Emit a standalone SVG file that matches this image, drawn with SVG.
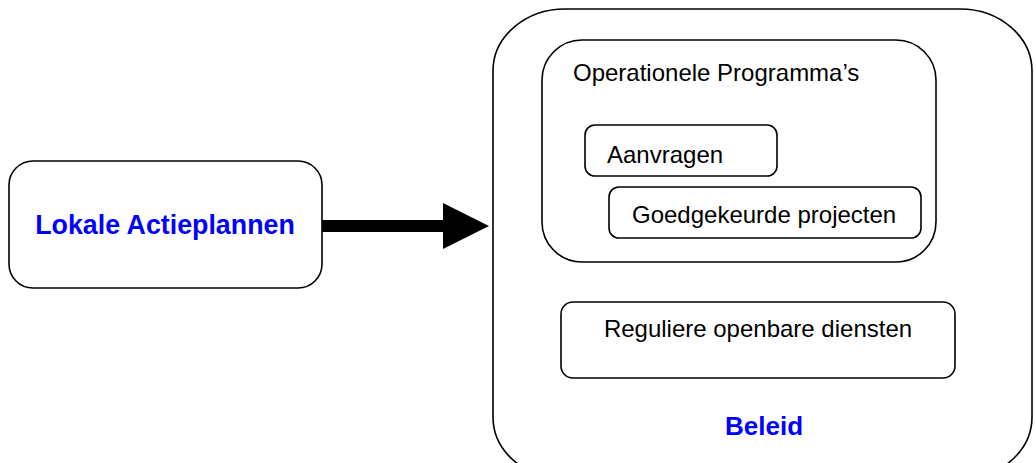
<svg xmlns="http://www.w3.org/2000/svg" width="1036" height="463" viewBox="0 0 1036 463">
<style>
.box{fill:#fff;stroke:#000;stroke-width:1.6}
.t{font-family:"Liberation Sans",Arial,sans-serif;font-size:24px;fill:#000}
.b{font-family:"Liberation Sans",Arial,sans-serif;font-size:26px;font-weight:bold;fill:#0000ff}
</style>
<rect width="1036" height="463" fill="#fff"/>
<g id="beleid">
<rect class="box" x="493" y="9" width="539" height="470" rx="72" ry="62"/>
<text class="b" x="764" y="435" text-anchor="middle">Beleid</text>
</g>
<g id="operationele">
<rect class="box" x="542" y="40" width="394" height="222" rx="40" ry="40"/>
<text class="t" x="573" y="81">Operationele Programma’s</text>
</g>
<g id="aanvragen">
<rect class="box" x="585" y="125" width="192" height="51" rx="10" ry="10"/>
<text class="t" x="607" y="163">Aanvragen</text>
</g>
<g id="goedgekeurd">
<rect class="box" x="609" y="187" width="312" height="51" rx="10" ry="10"/>
<text class="t" x="632" y="223">Goedgekeurde projecten</text>
</g>
<g id="regulier">
<rect class="box" x="561" y="302" width="394" height="76" rx="12" ry="12"/>
<text class="t" x="758" y="337" text-anchor="middle">Reguliere openbare diensten</text>
</g>
<g id="lokale">
<rect class="box" x="9" y="161" width="313" height="127" rx="24" ry="24"/>
<text class="b" x="165" y="234" text-anchor="middle" style="font-size:26.8px">Lokale Actieplannen</text>
</g>
<g id="connectors">
<path d="M322,220 H443 V203 L489,226 L443,249 V232 H322 Z" fill="#000"/>
</g>
</svg>
